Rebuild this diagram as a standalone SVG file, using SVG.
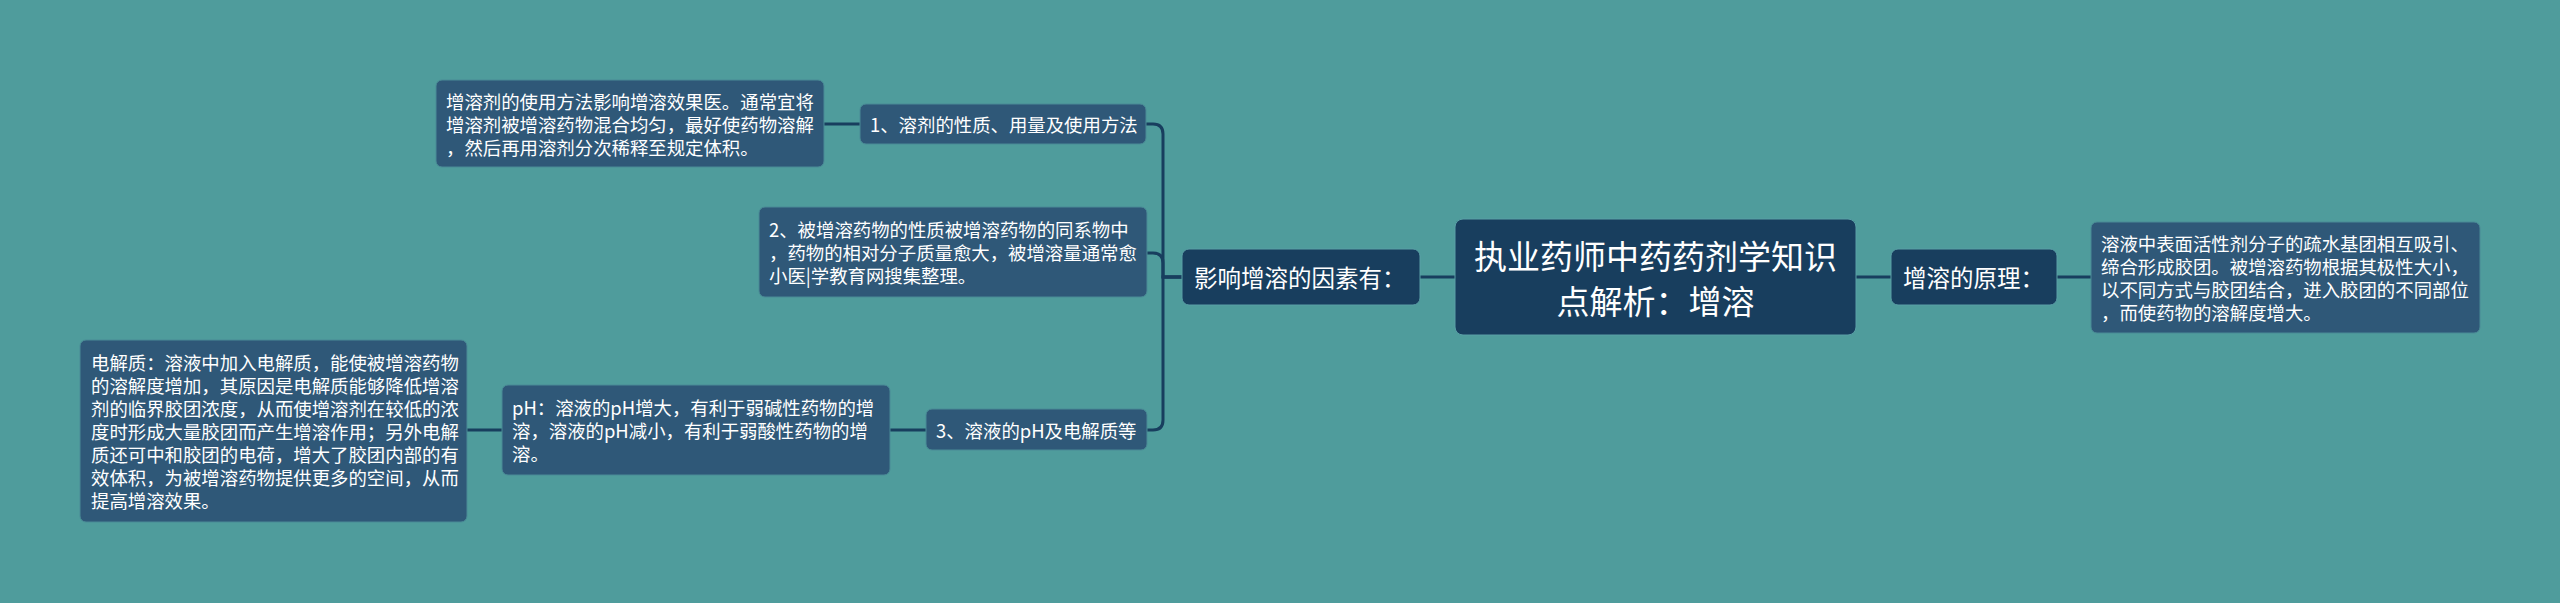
<svg xmlns="http://www.w3.org/2000/svg" width="2560" height="603" viewBox="0 0 2560 603">
<style>
.bg{fill:#4f9c9c}
.dk{fill:#183e5e;stroke:#5a9fa6;stroke-width:1}
.lf{fill:#2f5878;stroke:#4a8a96;stroke-width:1}
.t{font-family:"Noto Sans CJK SC","Noto Sans",sans-serif;fill:#ffffff;dominant-baseline:central}
.s{font-size:18.4px}
.m{font-size:23.5px}
.r{font-size:33px;text-anchor:middle}
.c{fill:none;stroke:#183e5e;stroke-width:3}
</style>
<rect class="bg" x="0" y="0" width="2560" height="603"/>
<g id="connectors">
<path class="c" d="M824 124 L860 124"/>
<path class="c" d="M1182 277 L1163 277 L1163 134 Q1163 124 1153 124 L1146 124"/>
<path class="c" d="M1182 277 L1163 277 L1163 263 Q1163 253 1153 253 L1147 253"/>
<path class="c" d="M1182 277 L1163 277 L1163 420 Q1163 430 1153 430 L1147 430"/>
<path class="c" d="M1455 277 L1420 277"/>
<path class="c" d="M1856 277 L1891 277"/>
<path class="c" d="M2057 277 L2091 277"/>
<path class="c" d="M926 430 L890 430"/>
<path class="c" d="M502 430 L467 430"/>
</g>
<g id="root">
<rect class="dk" x="1455" y="219" width="401" height="116" rx="8"/>
<text class="t r" x="1655.5" y="255">执业药师中药药剂学知识</text>
<text class="t r" x="1655.5" y="300">点解析：增溶</text>
</g>
<g id="factors">
<rect class="dk" x="1182" y="249" width="238" height="56" rx="7"/>
<text class="t m" x="1194" y="277">影响增溶的因素有：</text>
</g>
<g id="principle">
<rect class="dk" x="1891" y="249" width="166" height="56" rx="7"/>
<text class="t m" x="1903" y="277">增溶的原理：</text>
</g>
<g id="principle-detail">
<rect class="lf" x="2091" y="222" width="389" height="111" rx="6"/>
<text class="t s" x="2101" y="243">溶液中表面活性剂分子的疏水基团相互吸引、</text>
<text class="t s" x="2101" y="266">缔合形成胶团。被增溶药物根据其极性大小，</text>
<text class="t s" x="2101" y="289">以不同方式与胶团结合，进入胶团的不同部位</text>
<text class="t s" x="2101" y="312">，而使药物的溶解度增大。</text>
</g>
<g id="factor1">
<rect class="lf" x="860" y="104" width="286" height="40" rx="6"/>
<text class="t s" x="870" y="124">1、溶剂的性质、用量及使用方法</text>
</g>
<g id="factor1-detail">
<rect class="lf" x="436" y="80" width="388" height="87" rx="6"/>
<text class="t s" x="446" y="101">增溶剂的使用方法影响增溶效果医。通常宜将</text>
<text class="t s" x="446" y="124">增溶剂被增溶药物混合均匀，最好使药物溶解</text>
<text class="t s" x="446" y="147">，然后再用溶剂分次稀释至规定体积。</text>
</g>
<g id="factor2">
<rect class="lf" x="759" y="207" width="388" height="90" rx="6"/>
<text class="t s" x="769" y="229">2、被增溶药物的性质被增溶药物的同系物中</text>
<text class="t s" x="769" y="252">，药物的相对分子质量愈大，被增溶量通常愈</text>
<text class="t s" x="769" y="275">小医|学教育网搜集整理。</text>
</g>
<g id="factor3">
<rect class="lf" x="926" y="409" width="221" height="41" rx="6"/>
<text class="t s" x="936" y="430">3、溶液的pH及电解质等</text>
</g>
<g id="ph">
<rect class="lf" x="502" y="385" width="388" height="90" rx="6"/>
<text class="t s" x="512" y="407">pH：溶液的pH增大，有利于弱碱性药物的增</text>
<text class="t s" x="512" y="430">溶，溶液的pH减小，有利于弱酸性药物的增</text>
<text class="t s" x="512" y="453">溶。</text>
</g>
<g id="electrolyte">
<rect class="lf" x="80" y="340" width="387" height="182" rx="6"/>
<text class="t s" x="91" y="362">电解质：溶液中加入电解质，能使被增溶药物</text>
<text class="t s" x="91" y="385">的溶解度增加，其原因是电解质能够降低增溶</text>
<text class="t s" x="91" y="408">剂的临界胶团浓度，从而使增溶剂在较低的浓</text>
<text class="t s" x="91" y="431">度时形成大量胶团而产生增溶作用；另外电解</text>
<text class="t s" x="91" y="454">质还可中和胶团的电荷，增大了胶团内部的有</text>
<text class="t s" x="91" y="477">效体积，为被增溶药物提供更多的空间，从而</text>
<text class="t s" x="91" y="500">提高增溶效果。</text>
</g>
</svg>
